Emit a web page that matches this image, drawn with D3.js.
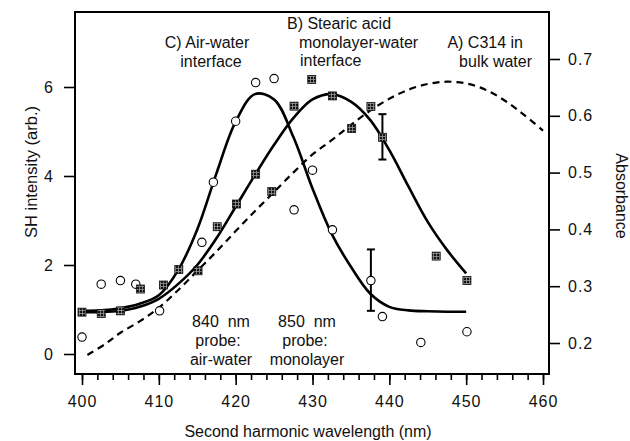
<!DOCTYPE html>
<html>
<head>
<meta charset="utf-8">
<script src="https://cdn.jsdelivr.net/npm/d3@7"></script>
<style>
  body { margin: 0; background: #fff; }
  svg text { font-family: "Liberation Sans", Arial, sans-serif; fill: #111; }
</style>
</head>
<body>
<script>
"use strict";

// open circles: air-water interface (840 nm probe)
const circleNm = [400.0, 402.5, 405.0, 407.0, 410.1, 415.6, 417.1, 420.0, 422.6, 425.0, 427.6, 430.0, 432.6, 437.6, 439.1, 444.1, 450.1];
const circleSH = [0.38, 1.57, 1.65, 1.57, 0.97, 2.51, 3.86, 5.23, 6.10, 6.19, 3.24, 4.13, 2.79, 1.65, 0.84, 0.26, 0.50];

// hatched squares: stearic acid monolayer-water interface (850 nm probe)
const squareNm = [400.0, 402.5, 405.0, 407.6, 410.6, 412.6, 415.1, 417.6, 420.1, 422.6, 424.7, 427.6, 429.9, 432.6, 435.1, 437.6, 439.1, 446.1, 450.1];
const squareSH = [0.94, 0.91, 0.97, 1.46, 1.55, 1.90, 1.87, 2.86, 3.37, 4.04, 3.65, 5.57, 6.17, 5.80, 5.07, 5.56, 4.87, 2.20, 1.65];

// error bars [nm, low, high]
const circleErr = [437.6, 0.97, 2.35];
const squareErr = [439.1, 4.37, 5.39];

// fitted curves
const fitNm = [400, 402.5, 405, 407.5, 410, 412.5, 415, 417.5, 420, 422.5, 425, 427.5, 430, 432.5, 435, 437.5, 440, 442.5, 445, 447.5, 450];
const airFit = [0.97, 0.98, 1.03, 1.13, 1.32, 1.88, 2.80, 4.06, 5.22, 5.84, 5.72, 4.88, 3.72, 2.70, 1.96, 1.36, 1.06, 0.98, 0.96, 0.95, 0.95];
const monoFit = [0.94, 0.94, 0.97, 1.06, 1.24, 1.57, 2.00, 2.60, 3.31, 4.02, 4.70, 5.30, 5.72, 5.84, 5.67, 5.26, 4.58, 3.76, 2.97, 2.34, 1.81];

// C314 absorbance in bulk water (right axis)
const absNm = [400.7, 403, 405, 407.5, 410, 412.5, 415, 417.5, 420, 422.5, 425, 427.5, 430, 432.5, 435, 437.5, 440, 442.5, 445, 447.5, 450, 452.5, 455, 457.5, 460];
const absVal = [0.179, 0.198, 0.218, 0.238, 0.262, 0.293, 0.327, 0.361, 0.397, 0.432, 0.466, 0.500, 0.532, 0.557, 0.584, 0.609, 0.630, 0.646, 0.656, 0.660, 0.657, 0.646, 0.627, 0.602, 0.574];

const xTicks = [400, 410, 420, 430, 440, 450, 460];
const leftTicks = [0, 2, 4, 6];
const rightTicks = [0.2, 0.3, 0.4, 0.5, 0.6, 0.7];

const measurements = { width: 630, height: 441, left: 75, right: 549, top: 12, bottom: 374 };

const svg = d3.select("body").append("svg")
    .attr("width", measurements.width)
    .attr("height", measurements.height);

const x = d3.scaleLinear().domain([400, 460]).range([82, 543]);
const ySH = d3.scaleLinear().domain([0, 6]).range([354, 87]);
const yAbs = d3.scaleLinear().domain([0.2, 0.7]).range([343, 59]);

// hatch pattern for the square markers
const pat = svg.append("defs").append("pattern")
    .attr("id", "hatch")
    .attr("patternUnits", "userSpaceOnUse")
    .attr("width", 3).attr("height", 3);
pat.append("rect").attr("width", 3).attr("height", 3).attr("fill", "#111");
pat.append("path").attr("d", "M1.5,0V3M0,1.5H3").attr("stroke", "#999").attr("stroke-width", 0.8);

// frame
svg.append("rect")
    .attr("x", measurements.left).attr("y", measurements.top)
    .attr("width", measurements.right - measurements.left)
    .attr("height", measurements.bottom - measurements.top)
    .attr("fill", "none").attr("stroke", "#000").attr("stroke-width", 2);

// axes
const xMinor = svg.append("g")
    .attr("transform", `translate(0,${measurements.bottom})`)
    .call(d3.axisBottom(x).tickValues(d3.range(400, 461, 2)).tickSize(6).tickFormat(""));
const xAxis = svg.append("g")
    .attr("transform", `translate(0,${measurements.bottom})`)
    .call(d3.axisBottom(x).tickValues(xTicks).tickSize(11).tickPadding(11).tickFormat(d3.format("d")));
const yLeft = svg.append("g")
    .attr("transform", `translate(${measurements.left},0)`)
    .call(d3.axisLeft(ySH).tickValues(leftTicks).tickSize(11).tickPadding(10).tickFormat(d3.format("d")));
const yRight = svg.append("g")
    .attr("transform", `translate(${measurements.right},0)`)
    .call(d3.axisRight(yAbs).tickValues(rightTicks).tickSize(11).tickPadding(8).tickFormat(d3.format(".1f")));

[xMinor, xAxis, yLeft, yRight].forEach(g => {
    g.select(".domain").remove();
    g.selectAll("line").attr("stroke", "#000").attr("stroke-width", 1.6);
    g.selectAll("text").attr("font-size", 16).attr("letter-spacing", "1px")
        .attr("font-family", "Liberation Sans, Arial, sans-serif").attr("fill", "#111");
});

// axis titles
svg.append("text")
    .attr("x", 308).attr("y", 437)
    .attr("text-anchor", "middle").attr("font-size", 16)
    .text("Second harmonic wavelength (nm)");
svg.append("text")
    .attr("transform", "translate(37,172) rotate(-90)")
    .attr("text-anchor", "middle").attr("font-size", 16.5)
    .text("SH intensity (arb.)");
svg.append("text")
    .attr("transform", "translate(616,196) rotate(90)")
    .attr("text-anchor", "middle").attr("font-size", 16)
    .text("Absorbance");

// curves
const lineSH = (ys) => d3.line()
    .x((d, i) => x(fitNm[i]))
    .y((d) => ySH(d))
    .curve(d3.curveCatmullRom.alpha(0.5))(ys);

svg.append("path").attr("d", lineSH(airFit))
    .attr("fill", "none").attr("stroke", "#000").attr("stroke-width", 2.6);
svg.append("path").attr("d", lineSH(monoFit))
    .attr("fill", "none").attr("stroke", "#000").attr("stroke-width", 2.6);

const absLine = d3.line()
    .x((d, i) => x(absNm[i]))
    .y((d) => yAbs(d))
    .curve(d3.curveCatmullRom.alpha(0.5));
svg.append("path").attr("d", absLine(absVal))
    .attr("fill", "none").attr("stroke", "#000").attr("stroke-width", 2.2)
    .attr("stroke-dasharray", "7,5");

// error bars
[circleErr, squareErr].forEach(e => {
    const g = svg.append("g").attr("stroke", "#000").attr("stroke-width", 2);
    g.append("line").attr("x1", x(e[0])).attr("x2", x(e[0])).attr("y1", ySH(e[1])).attr("y2", ySH(e[2]));
    g.append("line").attr("x1", x(e[0]) - 4).attr("x2", x(e[0]) + 4).attr("y1", ySH(e[1])).attr("y2", ySH(e[1]));
    g.append("line").attr("x1", x(e[0]) - 4).attr("x2", x(e[0]) + 4).attr("y1", ySH(e[2])).attr("y2", ySH(e[2]));
});

// markers
svg.selectAll(".circ")
    .data(circleNm)
    .enter()
    .append("circle")
    .attr("cx", (d) => x(d))
    .attr("cy", (d, i) => ySH(circleSH[i]))
    .attr("r", 4.2)
    .attr("fill", "#fff").attr("stroke", "#000").attr("stroke-width", 1.1);

svg.selectAll(".sq")
    .data(squareNm)
    .enter()
    .append("rect")
    .attr("x", (d) => x(d) - 4)
    .attr("y", (d, i) => ySH(squareSH[i]) - 4)
    .attr("width", 8).attr("height", 8)
    .attr("fill", "url(#hatch)").attr("stroke", "#111").attr("stroke-width", 0.8);

// annotations
const notes = [
    { t: "C) Air-water", x: 207, y: 48, a: "middle" },
    { t: "interface", x: 211, y: 67, a: "middle" },
    { t: "B) Stearic acid", x: 287, y: 29, a: "start" },
    { t: "monolayer-water", x: 299, y: 48, a: "start" },
    { t: "interface", x: 300, y: 66, a: "start" },
    { t: "A) C314 in", x: 523, y: 48, a: "end" },
    { t: "bulk water", x: 532, y: 67, a: "end" },
    { t: "840  nm", x: 221, y: 327, a: "middle" },
    { t: "probe:", x: 218, y: 346, a: "middle" },
    { t: "air-water", x: 221, y: 365, a: "middle" },
    { t: "850  nm", x: 307, y: 327, a: "middle" },
    { t: "probe:", x: 305, y: 346, a: "middle" },
    { t: "monolayer", x: 307, y: 365, a: "middle" }
];
svg.selectAll(".note")
    .data(notes)
    .enter()
    .append("text")
    .attr("x", (d) => d.x).attr("y", (d) => d.y)
    .attr("text-anchor", (d) => d.a)
    .attr("font-size", 16)
    .style("white-space", "pre")
    .text((d) => d.t);
</script>
</body>
</html>
